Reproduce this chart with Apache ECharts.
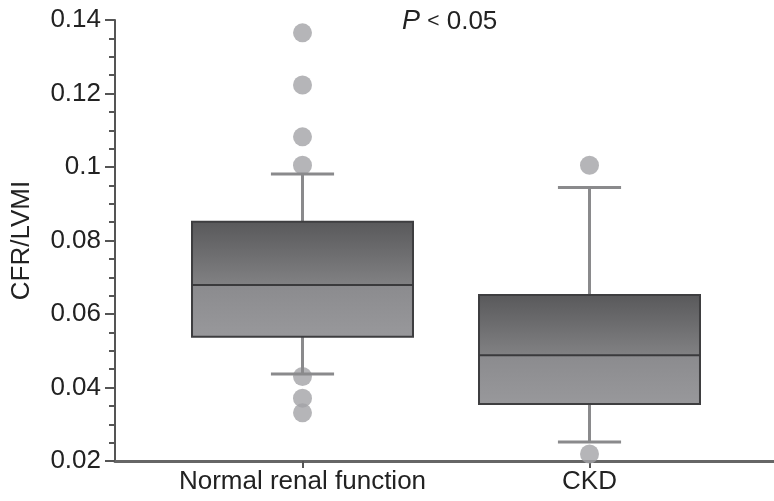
<!DOCTYPE html>
<html>
<head>
<meta charset="utf-8">
<script src="https://cdn.jsdelivr.net/npm/echarts@6/dist/echarts.min.js"></script>
<style>
  html, body { margin: 0; padding: 0; background: #fff; }
  #chart { width: 774px; height: 501px; }
</style>
</head>
<body>
<div id="chart"></div>
<script>
var categories = ['Normal renal function', 'CKD'];
var boxLow = [0.0437, 0.0252];
var boxQ1 = [0.0538, 0.0355];
var boxMedian = [0.0679, 0.0488];
var boxQ3 = [0.0851, 0.0652];
var boxHigh = [0.0981, 0.0944];
var outliersNormal = [0.1365, 0.1223, 0.1082, 0.1005, 0.0430, 0.0371, 0.0331];
var outliersCKD = [0.1005, 0.0219];
var yTicks = { min: 0.02, max: 0.14, step: 0.02 };

var boxData = categories.map(function (c, i) {
    return [i, boxLow[i], boxQ1[i], boxMedian[i], boxQ3[i], boxHigh[i]];
});
var outlierData = [];
outliersNormal.forEach(function (v) { outlierData.push([0, v]); });
outliersCKD.forEach(function (v) { outlierData.push([1, v]); });

var whiskerColor = '#8a8a8c';

function renderBox(params, api) {
    var x = api.value(0);
    var lo = api.coord([x, api.value(1)]);
    var q1 = api.coord([x, api.value(2)]);
    var md = api.coord([x, api.value(3)]);
    var q3 = api.coord([x, api.value(4)]);
    var hi = api.coord([x, api.value(5)]);
    var band = api.size([1, 0])[0];
    var bw = band * 0.77;       // box width
    var cw = band * 0.22;       // whisker cap width
    var cx = lo[0];
    var left = cx - bw / 2;
    var lineStyle = { stroke: whiskerColor, lineWidth: 3 };
    return {
        type: 'group',
        children: [
            { type: 'line', shape: { x1: cx, y1: hi[1], x2: cx, y2: q3[1] }, style: lineStyle },
            { type: 'line', shape: { x1: cx, y1: q1[1], x2: cx, y2: lo[1] }, style: lineStyle },
            { type: 'line', shape: { x1: cx - cw / 2, y1: hi[1], x2: cx + cw / 2, y2: hi[1] }, style: lineStyle },
            { type: 'line', shape: { x1: cx - cw / 2, y1: lo[1], x2: cx + cw / 2, y2: lo[1] }, style: lineStyle },
            {
                type: 'rect',
                shape: { x: left, y: q3[1], width: bw, height: md[1] - q3[1] },
                style: {
                    fill: new echarts.graphic.LinearGradient(0, 0, 0, 1, [
                        { offset: 0, color: '#59595b' },
                        { offset: 1, color: '#818183' }
                    ])
                }
            },
            {
                type: 'rect',
                shape: { x: left, y: md[1], width: bw, height: q1[1] - md[1] },
                style: {
                    fill: new echarts.graphic.LinearGradient(0, 0, 0, 1, [
                        { offset: 0, color: '#8b8b8e' },
                        { offset: 1, color: '#98989b' }
                    ])
                }
            },
            {
                type: 'rect',
                shape: { x: left, y: q3[1], width: bw, height: q1[1] - q3[1] },
                style: { fill: 'none', stroke: '#3e3e40', lineWidth: 2 }
            },
            { type: 'line', shape: { x1: left, y1: md[1], x2: left + bw, y2: md[1] }, style: { stroke: '#3a3a3c', lineWidth: 2 } }
        ]
    };
}

var myChart = echarts.init(document.getElementById('chart'));
var option = {
    backgroundColor: '#ffffff',
    animation: false,
    textStyle: { fontFamily: 'Liberation Sans, Arial, sans-serif', color: '#222' },
    title: {
        text: '{i|P} {s|<} 0.05',
        left: 397,
        top: 3,
        textStyle: {
            fontSize: 26,
            fontWeight: 'normal',
            color: '#222',
            rich: {
                i: { fontStyle: 'italic', fontSize: 27, color: '#222' },
                s: { fontSize: 21, color: '#222' }
            }
        }
    },
    grid: [
        { left: 115, right: 0, top: 20, bottom: 40 },
        { left: 159, width: 574, top: 20, bottom: 40 }
    ],
    xAxis: [
        {
            type: 'value', gridIndex: 0, min: 0, max: 1,
            axisLine: { show: true, lineStyle: { color: '#666', width: 3 } },
            axisTick: { show: false },
            axisLabel: { show: false },
            splitLine: { show: false }
        },
        {
            type: 'category', gridIndex: 1,
            data: categories,
            boundaryGap: true,
            axisLine: { show: false },
            axisTick: { show: true, interval: 0, alignWithLabel: true, length: 7, lineStyle: { color: '#555', width: 2 } },
            axisLabel: { interval: 0, hideOverlap: false, fontSize: 26, color: '#222', margin: 8 },
            splitLine: { show: false }
        }
    ],
    yAxis: [
        {
            type: 'value', gridIndex: 0,
            min: yTicks.min, max: yTicks.max, interval: yTicks.step,
            name: 'CFR/LVMI',
            nameLocation: 'middle',
            nameGap: 80,
            nameTextStyle: { fontSize: 26, color: '#222' },
            axisLine: { show: true, lineStyle: { color: '#555', width: 2 } },
            axisTick: { show: true, length: 10, lineStyle: { color: '#555', width: 2 } },
            minorTick: { show: true, splitNumber: 4, length: 6, lineStyle: { color: '#555', width: 2 } },
            axisLabel: { fontSize: 26, color: '#222', margin: 14 },
            splitLine: { show: false },
            minorSplitLine: { show: false }
        },
        {
            type: 'value', gridIndex: 1,
            min: yTicks.min, max: yTicks.max, show: false,
            splitLine: { show: false }
        }
    ],
    series: [
        {
            name: 'outliers',
            type: 'scatter',
            xAxisIndex: 1, yAxisIndex: 1,
            symbol: 'circle',
            symbolSize: 19,
            itemStyle: { color: '#a3a3a6' },
            z: 2,
            data: outlierData
        },
        {
            name: 'box',
            type: 'custom',
            xAxisIndex: 1, yAxisIndex: 1,
            renderItem: renderBox,
            encode: { x: 0, y: [1, 2, 3, 4, 5] },
            z: 3,
            data: boxData
        }
    ]
};
myChart.setOption(option);
</script>
</body>
</html>
